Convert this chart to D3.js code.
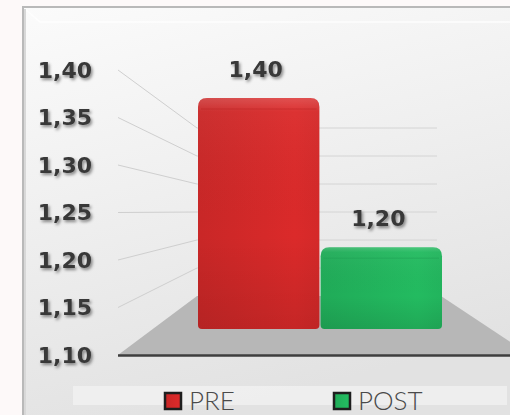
<!DOCTYPE html>
<html>
<head>
<meta charset="utf-8">
<script src="https://cdn.jsdelivr.net/npm/d3@7"></script>
<style>
  html, body { margin: 0; padding: 0; background: #fdf9f9; }
  svg { display: block; }
</style>
</head>
<body>
<div id="chart"></div>
<script>
// data
var categories = ["PRE", "POST"];
var values = [1.40, 1.20];
var barColors = ["#d02828", "#21b15b"];
var tickValues = [1.10, 1.15, 1.20, 1.25, 1.30, 1.35, 1.40];

var width = 510, height = 415;

var locale = d3.formatLocale({ decimal: ",", thousands: ".", grouping: [3], currency: ["", "€"] });
var fmt = locale.format(".2f");

// front plane (labels), back wall, and bar plane
var yFront = d3.scaleLinear().domain([1.10, 1.40]).range([355, 70]);
var yBack = d3.scaleLinear().domain([1.10, 1.40]).range([296, 128]);
var yBar = d3.scaleLinear().domain([1.10, 1.40]).range([322, 98]);
var barBottom = 329;

var x = d3.scaleBand().domain(categories).range([198, 442]).paddingInner(0.01);

var frontX = 118, backX = 197, backRight = 437;

var svg = d3.select("#chart").append("svg")
  .attr("width", width)
  .attr("height", height);

var defs = svg.append("defs");

var bg = defs.append("linearGradient").attr("id", "bg")
  .attr("x1", 0).attr("y1", 0).attr("x2", 0.3).attr("y2", 1);
bg.append("stop").attr("offset", "0%").attr("stop-color", "#fbfbfb");
bg.append("stop").attr("offset", "45%").attr("stop-color", "#f0f0f0");
bg.append("stop").attr("offset", "100%").attr("stop-color", "#e2e2e2");

var shadow = defs.append("filter").attr("id", "shadow")
  .attr("x", "-20%").attr("y", "-30%").attr("width", "140%").attr("height", "160%");
shadow.append("feDropShadow").attr("dx", 1.5).attr("dy", 2)
  .attr("stdDeviation", 1.5).attr("flood-color", "#000").attr("flood-opacity", 0.45);

// bar gradients
categories.forEach(function (c, i) {
  var base = d3.color(barColors[i]);
  var g = defs.append("linearGradient").attr("id", "bar" + i)
    .attr("x1", 0).attr("y1", 0).attr("x2", 1).attr("y2", 0);
  g.append("stop").attr("offset", "0%").attr("stop-color", base.darker(0.1));
  g.append("stop").attr("offset", "80%").attr("stop-color", base.brighter(0.15));
  g.append("stop").attr("offset", "100%").attr("stop-color", base.brighter(0.05));
  var gv = defs.append("linearGradient").attr("id", "barv" + i)
    .attr("x1", 0).attr("y1", 0).attr("x2", 0).attr("y2", 1);
  gv.append("stop").attr("offset", "0%").attr("stop-color", "#fff").attr("stop-opacity", 0.18);
  gv.append("stop").attr("offset", "6%").attr("stop-color", "#fff").attr("stop-opacity", 0.04);
  gv.append("stop").attr("offset", "60%").attr("stop-color", "#000").attr("stop-opacity", 0);
  gv.append("stop").attr("offset", "100%").attr("stop-color", "#000").attr("stop-opacity", 0.1);
});

// frame
svg.append("rect")
  .attr("x", 23).attr("y", 7)
  .attr("width", width - 23 + 10).attr("height", height)
  .attr("fill", "url(#bg)")
  .attr("stroke", "#b9b9b9")
  .attr("stroke-width", 2);
svg.append("path")
  .attr("d", "M25,9 L40,22 L" + width + ",22")
  .attr("fill", "none").attr("stroke", "#ffffff").attr("stroke-width", 1.5).attr("opacity", 0.8);
svg.append("line")
  .attr("x1", 25).attr("y1", 9).attr("x2", 25).attr("y2", height)
  .attr("stroke", "#d8d8d8").attr("stroke-width", 2);

// floor
svg.append("path")
  .attr("d", "M" + frontX + "," + yFront(1.10) +
    " L" + backX + "," + yBack(1.10) +
    " L" + (x.range()[1] - 1) + "," + yBack(1.10) +
    " L530," + yFront(1.10) + " Z")
  .attr("fill", "#b7b7b7");

var grid = tickValues.filter(function (v) { return v > 1.10; });

// side wall lines
svg.selectAll(".side").data(grid).enter().append("line")
  .attr("class", "side")
  .attr("x1", frontX).attr("y1", function (d) { return yFront(d); })
  .attr("x2", backX).attr("y2", function (d) { return yBack(d); })
  .attr("stroke", "#cfcfcf").attr("stroke-width", 1);

// back wall lines
svg.selectAll(".back").data(grid).enter().append("line")
  .attr("class", "back")
  .attr("x1", backX).attr("y1", function (d) { return yBack(d); })
  .attr("x2", backRight).attr("y2", function (d) { return yBack(d); })
  .attr("stroke", "#d4d4d4").attr("stroke-width", 1);

// axis line
svg.append("line")
  .attr("x1", frontX).attr("y1", yFront(1.10) + 0.5)
  .attr("x2", width).attr("y2", yFront(1.10) + 0.5)
  .attr("stroke", "#3e3e3e").attr("stroke-width", 2.5);

// y labels
svg.selectAll(".ylab").data(tickValues).enter().append("text")
  .attr("class", "ylab")
  .attr("x", 92)
  .attr("y", function (d) { return yFront(d); })
  .attr("dy", "0.36em")
  .attr("text-anchor", "end")
  .attr("font-family", "DejaVu Sans")
  .attr("font-weight", "bold")
  .attr("font-size", 22)
  .attr("fill", "#383838")
  .attr("filter", "url(#shadow)")
  .text(function (d) { return fmt(d); });

// bars
function barPath(x0, y0, w, h, rt, rb) {
  return "M" + x0 + "," + (y0 + rt) +
    " Q" + x0 + "," + y0 + " " + (x0 + rt) + "," + y0 +
    " L" + (x0 + w - rt) + "," + y0 +
    " Q" + (x0 + w) + "," + y0 + " " + (x0 + w) + "," + (y0 + rt) +
    " L" + (x0 + w) + "," + (y0 + h - rb) +
    " Q" + (x0 + w) + "," + (y0 + h) + " " + (x0 + w - rb) + "," + (y0 + h) +
    " L" + (x0 + rb) + "," + (y0 + h) +
    " Q" + x0 + "," + (y0 + h) + " " + x0 + "," + (y0 + h - rb) + " Z";
}

var bars = svg.selectAll(".bar").data(values).enter().append("g").attr("class", "bar");

bars.append("path")
  .attr("d", function (d, i) {
    return barPath(x(categories[i]), yBar(d), x.bandwidth(), barBottom - yBar(d), 9, 4);
  })
  .attr("fill", function (d, i) { return "url(#bar" + i + ")"; });

bars.append("path")
  .attr("d", function (d, i) {
    return barPath(x(categories[i]), yBar(d), x.bandwidth(), barBottom - yBar(d), 9, 4);
  })
  .attr("fill", function (d, i) { return "url(#barv" + i + ")"; });

// top bevel edge
bars.append("path")
  .attr("d", function (d, i) {
    var x0 = x(categories[i]) + 3, w = x.bandwidth() - 6, y0 = yBar(d) + 11;
    return "M" + x0 + "," + y0 + " L" + (x0 + w) + "," + y0;
  })
  .attr("stroke", function (d, i) { return d3.color(barColors[i]).darker(0.3); })
  .attr("stroke-opacity", 0.35)
  .attr("stroke-width", 1.5);

// value labels
svg.selectAll(".vlab").data(values).enter().append("text")
  .attr("class", "vlab")
  .attr("x", function (d, i) { return x(categories[i]) + x.bandwidth() / 2 - 3; })
  .attr("y", function (d) { return yBar(d) - 21; })
  .attr("text-anchor", "middle")
  .attr("font-family", "DejaVu Sans")
  .attr("font-weight", "bold")
  .attr("font-size", 22)
  .attr("fill", "#383838")
  .attr("filter", "url(#shadow)")
  .text(function (d) { return fmt(d); });

// legend
svg.append("rect")
  .attr("x", 73).attr("y", 386)
  .attr("width", 434).attr("height", 19)
  .attr("fill", "#f1f1f1").attr("opacity", 0.8);

var legendX = [165, 334];
var leg = svg.selectAll(".leg").data(categories).enter().append("g")
  .attr("class", "leg")
  .attr("transform", function (d, i) { return "translate(" + legendX[i] + ",393)"; });

leg.append("rect")
  .attr("width", 16).attr("height", 16)
  .attr("fill", function (d, i) { return "url(#bar" + i + ")"; })
  .attr("stroke", "#1e1e1e").attr("stroke-width", 2.5);

leg.append("text")
  .attr("x", 24).attr("y", 17)
  .attr("font-family", "Lato, 'Open Sans', sans-serif")
  .attr("font-weight", 300)
  .attr("font-size", 26)
  .attr("fill", "#4a4a4a")
  .text(function (d) { return d; });
</script>
</body>
</html>
